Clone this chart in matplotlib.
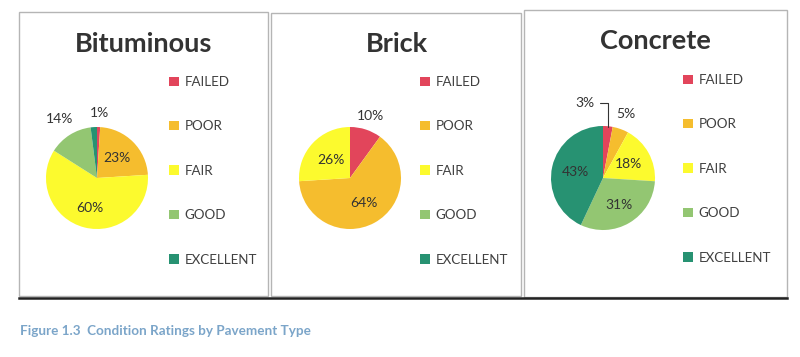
import matplotlib
matplotlib.use("Agg")
import matplotlib.pyplot as plt
from matplotlib.patches import Rectangle, Patch
import numpy as np

plt.rcParams['font.family'] = ['Lato', 'DejaVu Sans']

categories = ['FAILED', 'POOR', 'FAIR', 'GOOD', 'EXCELLENT']
colors = ['#e2455b', '#f5bd2e', '#fcfa2e', '#93c672', '#279272']

titles = ['Bituminous', 'Brick', 'Concrete']
bituminous = [1, 23, 60, 14, 2]
brick = [10, 64, 26, 0, 0]
concrete = [3, 5, 18, 31, 43]

# which slices get a label, and how far from the centre (in radii)
bit_lbl = [1.27, 0.55, 0.6, 1.36, None]
brick_lbl = [1.28, 0.57, 0.52, None, None]
conc_lbl = [None, 1.3, 0.56, 0.6, 0.55]

W, H = 800, 357
fig = plt.figure(figsize=(W / 100, H / 100), dpi=100)
fig.patch.set_facecolor('white')


def fx(x):
    return x / W


def fy(y):
    return 1 - y / H


# panel frames
frames = [(19, 12, 268, 296), (271, 13, 521, 296), (524, 10, 787, 297)]
for x0, y0, x1, y1 in frames:
    fig.patches.append(Rectangle((fx(x0), fy(y1)), fx(x1 - x0), (y1 - y0) / H,
                                 transform=fig.transFigure, fill=False,
                                 edgecolor='#b5b5b5', lw=1))
fig.add_artist(plt.Line2D([fx(19), fx(787)], [fy(298), fy(298)],
                          transform=fig.transFigure, color='#222222', lw=1.8))

centers = [(97, 178, 51), (350, 178, 51), (603, 178, 52)]
title_pos = [(144, 44), (397, 44), (655, 41)]
legend_pos = [(169, 76), (420, 76), (683, 74)]
datasets = [bituminous, brick, concrete]
label_sets = [bit_lbl, brick_lbl, conc_lbl]

for i in range(3):
    cx, cy, r = centers[i]
    s = 1.6
    ax = fig.add_axes([fx(cx - s * r), fy(cy + s * r), 2 * s * r / W, 2 * s * r / H])
    vals = datasets[i]
    wedges, _ = ax.pie(vals, colors=colors, startangle=90, counterclock=False,
                       wedgeprops=dict(linewidth=0))
    ax.set_xlim(-s, s)
    ax.set_ylim(-s, s)
    ax.axis('off')

    total = sum(vals)
    for w, v, d in zip(wedges, vals, label_sets[i]):
        if d is None or v == 0:
            continue
        ang = np.deg2rad((w.theta1 + w.theta2) / 2)
        ax.text(d * np.cos(ang), d * np.sin(ang), f"{round(100 * v / total)}%",
                ha='center', va='center', fontsize=10, color='#333333')

    if i == 2:
        w = wedges[0]
        ang = np.deg2rad((w.theta1 + w.theta2) / 2)
        ax.annotate(f"{concrete[0]}%", xy=(0.98 * np.cos(ang), 0.98 * np.sin(ang)),
                    xytext=(-0.35, 1.45), ha='center', va='center', fontsize=10,
                    color='#333333',
                    arrowprops=dict(arrowstyle='-', color='#333333', lw=0.8,
                                    shrinkA=2, shrinkB=0,
                                    connectionstyle='angle,angleA=0,angleB=90,rad=0'))

    tx, ty = title_pos[i]
    fig.text(fx(tx), fy(ty), titles[i], ha='center', va='center',
             fontsize=19.5, fontweight='bold', color='#333333')

    lx, ly = legend_pos[i]
    handles = [Patch(facecolor=c, edgecolor='none') for c in colors]
    fig.legend(handles, categories, loc='upper left',
               bbox_to_anchor=(fx(lx), fy(ly)), bbox_transform=fig.transFigure,
               frameon=False, fontsize=9.6, labelcolor='#404040',
               handlelength=0.72, handleheight=0.72, handletextpad=0.45,
               labelspacing=2.43, borderpad=0, borderaxespad=0)

fig.text(fx(20), fy(331), 'Figure 1.3  Condition Ratings by Pavement Type',
         ha='left', va='center', fontsize=9.7, fontweight='bold', color='#7ba5c9')

fig.savefig('out.png', dpi=100, facecolor='white')
